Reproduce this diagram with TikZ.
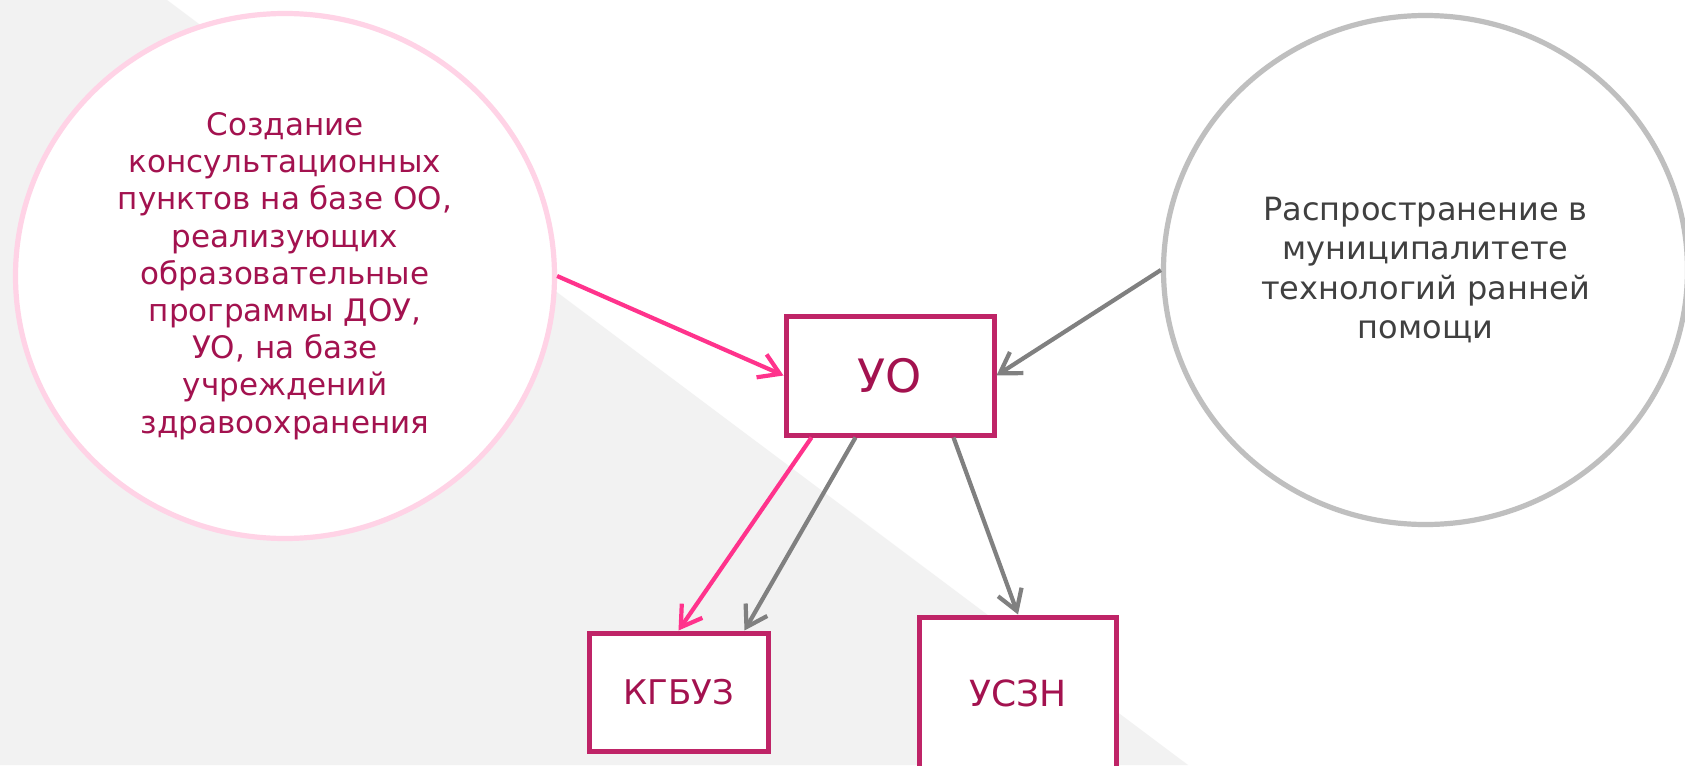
\documentclass[tikz,border=0pt]{standalone}
\usepackage{fontspec}
\setmainfont{DejaVu Sans}
\usetikzlibrary{arrows.meta, shapes.geometric}

\definecolor{boxred}{HTML}{BF2467}
\definecolor{textred}{HTML}{A3124F}
\definecolor{linkpink}{HTML}{FF338C}
\definecolor{linkgray}{HTML}{808080}
\definecolor{circpink}{HTML}{FFD3E6}
\definecolor{circgray}{HTML}{BFBFBF}
\definecolor{bandgray}{HTML}{F2F2F2}

\tikzset{
    bubble/.style={ellipse, draw, line width=2.6pt, fill=white, align=center, inner sep=0pt,
        font=\fontsize{15.5}{18.6}\selectfont},
    unit/.style={rectangle, draw=boxred, line width=2.5pt, fill=white, text=textred, inner sep=0pt},
    link/.style={line width=2.1pt, -{Straight Barb[length=10pt, width=12.5pt]}},
}

\begin{document}
\begin{tikzpicture}[x=0.5pt, y=-0.5pt]
    % Background with the grey band
    \useasboundingbox (0,0) rectangle (1685,765);
    \fill[white] (0,0) rectangle (1685,765);
    \fill[bandgray] (0,0) -- (167,0) -- (1188,765) -- (0,765) -- cycle;

    % Define the two circles
    \node[bubble, draw=circpink, text=textred, minimum width=269.5pt, minimum height=262.5pt] (lcirc) at (285,276)
        {Создание\\консультационных\\пунктов на базе ОО,\\реализующих\\образовательные\\программы ДОУ,\\УО, на базе\\учреждений\\здравоохранения};
    \node[bubble, draw=circgray, text=black!75, minimum width=262pt, minimum height=254.5pt, font=\fontsize{16}{19.6}\selectfont] (rcirc) at (1425.5,270)
        {Распространение в\\муниципалитете\\технологий ранней\\помощи};

    % Define the three boxes
    \node[unit, minimum width=104pt, minimum height=59.5pt, font=\fontsize{23}{27}\selectfont] (uo) at (890,375.5) {УО};
    \node[unit, minimum width=89.5pt, minimum height=59pt, font=\fontsize{17}{21}\selectfont] (kgbuz) at (678.5,692) {КГБУЗ};
    \node[unit, minimum width=98.5pt, minimum height=76pt, font=\fontsize{18}{21}\selectfont] (uszn) at (1018,693) {УСЗН};

    % Draw the arrows
    \draw[link, linkpink] (lcirc.east) -- (uo.west);
    \draw[link, linkgray] (rcirc.west) -- (uo.east);
    \draw[link, linkpink] ([xshift=14pt]uo.south west) -- (kgbuz.north);
    \draw[link, linkgray] ([xshift=36pt]uo.south west) -- ([xshift=-13pt]kgbuz.north east);
    \draw[link, linkgray] ([xshift=-21.5pt]uo.south east) -- (uszn.north);
\end{tikzpicture}
\end{document}
